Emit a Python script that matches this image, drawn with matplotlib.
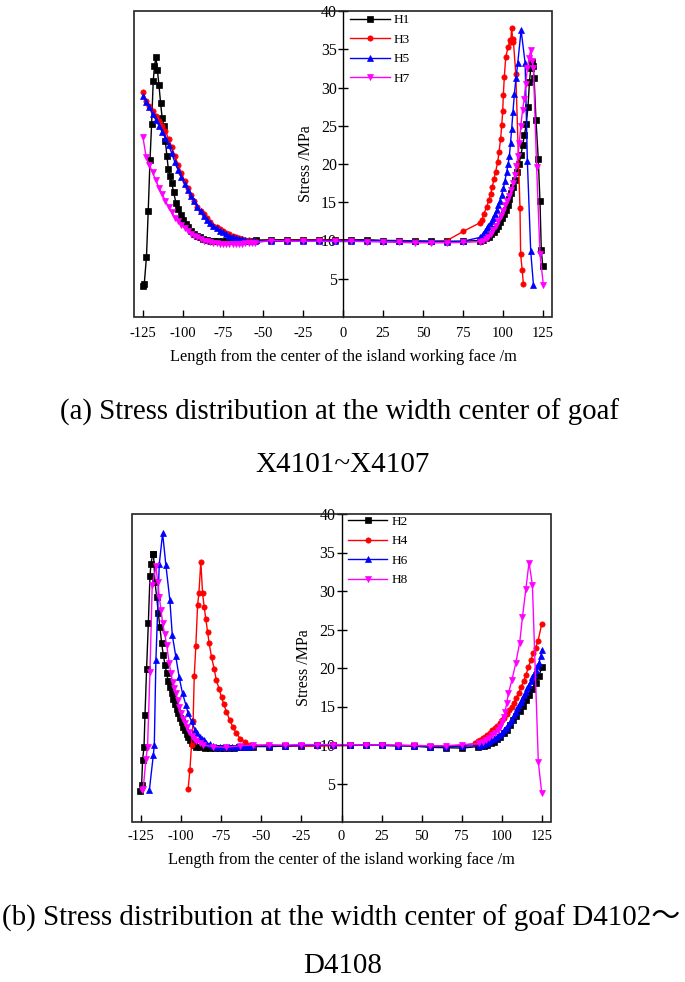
import matplotlib
matplotlib.use("Agg")
import matplotlib.pyplot as plt
from matplotlib.patches import Rectangle

plt.rcParams['font.family'] = ['Liberation Serif', 'Noto Sans CJK SC', 'DejaVu Sans']
plt.rcParams['axes.unicode_minus'] = False

# ---------------- Panel (a) data ----------------
h1_x = [-124.8, -124.2, -122.8, -121.7, -120.6, -119.6, -118.6, -117.8, -116.9, -116.0, -115.0, -114.0,
        -113.0, -112.0, -111.0, -110.0, -109.2, -108.0, -107.0, -105.8, -104.4, -103.0, -101.5, -100.0,
        -98.4, -96.8, -95.0, -93.2, -91.3, -89.3, -87.2, -85.0, -82.7, -80.3, -77.8, -75.2, -72.5, -69.7,
        -66.8, -63.8, -60.7, -57.5, -54.2, -45, -35, -25, -15, -5, 5, 15, 25, 35, 45, 55, 65, 75,
        85.6, 87.5, 89.3, 91.0, 92.6, 94.1, 95.5, 96.8, 98.0, 99.2, 100.4, 101.6, 102.8, 104.0, 105.2,
        106.4, 107.6, 108.8, 110.0, 111.2, 112.3, 113.4, 114.5, 115.6, 116.5, 117.3, 118.0, 118.7, 119.4,
        120.6, 122.0, 123.1, 123.9, 124.8]
h1_y = [4.0, 4.3, 7.9, 13.9, 20.5, 25.2, 30.8, 32.8, 34.0, 32.3, 30.3, 28.0,
        26.0, 25.0, 23.0, 21.0, 19.4, 18.4, 17.5, 16.3, 14.9, 14.1, 13.3, 12.7,
        12.2, 11.7, 11.2, 10.9, 10.6, 10.4, 10.25, 10.1, 10.0, 9.95, 9.9, 9.9, 9.9, 9.95,
        9.95, 10.0, 10.0, 10.0, 10.05, 10.1, 10.1, 10.1, 10.1, 10.1, 10.1, 10.1, 10.0, 10.0, 9.95, 9.9, 9.9, 9.9,
        10.0, 10.1, 10.3, 10.5, 10.8, 11.1, 11.5, 11.9, 12.4, 12.9, 13.4, 14.0, 14.7, 15.4, 16.2,
        17.0, 17.9, 18.9, 20.0, 21.2, 22.5, 23.8, 25.2, 27.5, 30.7, 32.5, 33.3, 32.8, 31.3,
        25.7, 20.7, 15.1, 8.8, 6.7]

h3_x = [-125, -123, -121, -119, -117, -115, -113, -111, -109, -107, -105, -103, -101, -99, -97, -95,
        -93, -91, -89, -87, -85, -83, -81, -79, -77, -75, -73, -71, -69, -67, -65, -63, -61, -59, -57, -55,
        -45, -35, -25, -15, -5, 5, 15, 25, 35, 45, 55, 65, 75.2,
        85.4, 86.7, 88.1, 89.8, 91.2, 92.3, 93.3, 94.4, 95.4, 96.7, 97.5, 98.5, 99.2, 99.8, 100.2, 100.8,
        101.7, 103.2, 104.4, 104.8, 105.4, 106.0, 106.5, 108.0, 110.6, 111.0, 112.0, 112.7]
h3_y = [29.4, 28.3, 27.6, 26.9, 26.3, 25.6, 25.0, 24.3, 23.3, 22.2, 21.0, 19.9, 18.8, 17.8, 16.8, 15.9,
        15.1, 14.4, 13.9, 13.4, 12.9, 12.4, 11.9, 11.7, 11.45, 11.2, 11.0, 10.8, 10.6, 10.45, 10.3, 10.2,
        10.1, 10.05, 10.0, 10.0,
        10.0, 10.0, 10.05, 10.05, 10.05, 10.0, 10.0, 9.95, 9.9, 9.9, 9.85, 10.0, 11.2,
        12.3, 12.7, 13.5, 14.4, 15.3, 16.1, 17.0, 18.1, 19.0, 20.3, 21.6, 23.3, 25.1, 26.9, 29.0, 31.4,
        34.0, 35.3, 36.2, 36.0, 37.8, 36.3, 36.0, 31.7, 14.2, 8.2, 6.1, 4.35]

h5_x = [-125, -123, -121, -119, -117, -115, -113, -111, -109, -107, -105, -103, -101, -99, -97, -95,
        -93, -91, -89, -87, -85, -83, -81, -79, -77, -75, -73, -71, -69, -67, -65, -63, -61, -59, -57, -55,
        -45, -35, -25, -15, -5, 5, 15, 25, 35, 45, 55, 65, 75,
        85.6, 86.6, 87.7, 88.8, 89.8, 90.8, 91.9, 93.0, 94.0, 95.0, 96.0, 97.0, 98.0, 99.1, 100.2, 101.2,
        102.3, 103.2, 104.0, 104.7, 105.4, 106.2, 107.1, 108.1, 109.2, 111.3, 113.8, 115.2, 117.3, 119.0]
h5_y = [28.9, 28.1, 27.4, 26.6, 25.8, 25.0, 24.2, 23.4, 22.5, 21.4, 20.2, 19.2, 18.3, 17.4, 16.6, 15.8,
        15.1, 14.4, 13.8, 13.2, 12.7, 12.3, 11.9, 11.6, 11.3, 11.05, 10.85, 10.65, 10.5, 10.35, 10.25, 10.15,
        10.05, 10.0, 10.0, 10.0,
        9.9, 9.9, 10.0, 10.0, 10.0, 10.0, 10.0, 10.0, 9.95, 9.9, 9.9, 9.85, 9.9,
        10.4, 10.6, 10.9, 11.2, 11.6, 11.9, 12.2, 12.6, 13.0, 13.5, 14.0, 14.6, 15.2, 15.9, 16.8, 17.8,
        19.0, 20.0, 21.1, 22.8, 24.6, 26.8, 29.2, 31.2, 33.2, 37.5, 33.2, 20.4, 8.6, 4.2]

h7_x = [-125, -123, -121, -119, -117, -115, -113, -111, -109, -107, -105, -103, -101, -99, -97, -95,
        -93, -91, -89, -87, -85, -83, -81, -79, -77, -75, -73, -71, -69, -67, -65, -63, -61, -59, -57, -55,
        -45, -35, -25, -15, -5, 5, 15, 25, 35, 45, 55, 65, 75,
        85.6, 87.5, 89.2, 90.8, 92.4, 94.0, 95.5, 97.0, 98.5, 100.0, 101.4, 102.7, 104.0, 105.2, 106.3,
        107.4, 108.4, 109.3, 110.2, 111.1, 112.2, 113.2, 114.2, 115.2, 116.2, 117.3, 118.2, 119.0,
        121.0, 123.1, 125.2]
h7_y = [23.5, 20.9, 19.9, 18.9, 17.9, 16.9, 16.1, 15.2, 14.4, 13.7, 13.0, 12.5, 12.0, 11.6, 11.2, 10.9,
        10.6, 10.4, 10.2, 10.0, 9.9, 9.8, 9.7, 9.65, 9.6, 9.6, 9.6, 9.6, 9.6, 9.6, 9.6, 9.6, 9.65, 9.65, 9.7, 9.7,
        10.0, 9.9, 9.9, 9.9, 9.9, 9.9, 9.85, 9.8, 9.75, 9.7, 9.7, 9.7, 9.75,
        9.85, 10.0, 10.25, 10.5, 10.9, 11.4, 11.9, 12.5, 13.2, 13.9, 14.6, 15.2, 15.8, 16.6, 17.5,
        18.6, 19.8, 21.0, 22.8, 25.0, 27.0, 28.5, 30.5, 32.5, 33.8, 34.9, 33.5, 32.5,
        19.6, 8.2, 4.2]

# ---------------- Panel (b) data ----------------
h2_x = [-125.6, -124.6, -124.0, -123.1, -122.5, -121.5, -120.4, -119.4, -118.8, -117.7, -117.2, -116.3,
        -115.2, -114.2, -113.2, -112.1, -111.1, -110.0, -109.0, -108.0, -107.0, -105.9, -104.9, -103.8,
        -102.8, -101.8, -100.7, -99.7, -98.6, -97.6, -96.6, -95.6, -94.5, -93.5, -92.0, -90.4, -88, -85,
        -82, -79, -76, -73, -70, -67, -64, -61, -58, -55, -45, -35, -25, -15, -5, 5, 15, 25, 35, 45, 55,
        65, 75, 85, 87, 89, 91, 93, 95, 97, 99, 101, 103, 105, 107, 109, 111, 113, 115, 117, 119, 121,
        123, 125]
h2_y = [4.0, 4.8, 8.0, 9.8, 13.9, 19.9, 25.9, 31.9, 33.5, 34.8, 34.8, 31.2,
        29.2, 27.1, 25.3, 23.2, 21.7, 20.4, 19.3, 18.3, 17.5, 16.7, 16.0, 15.3,
        14.7, 14.1, 13.5, 13.0, 12.4, 11.9, 11.4, 11.0, 10.6, 10.3, 10.0, 9.8, 9.7, 9.6,
        9.6, 9.55, 9.55, 9.6, 9.6, 9.65, 9.7, 9.7, 9.75, 9.8, 9.8, 9.85, 9.9, 9.95, 10.0, 10.0, 10.0, 9.95,
        9.9, 9.85, 9.7, 9.65, 9.6, 9.8, 9.85, 9.9, 10.0, 10.2, 10.45, 10.75, 11.1, 11.5, 12.0, 12.6, 13.2,
        13.8, 14.4, 15.1, 15.8, 16.5, 17.3, 18.1, 19.0, 20.1]

h4_x = [-95.6, -94.5, -93.5, -92.5, -91.8, -90.8, -89.7, -88.9, -87.7, -86.6, -85.6, -84.6, -83.5,
        -82.5, -81.0, -79.4, -78.0, -76.3, -74.8, -73.4, -71.7, -69.6, -67.6, -65.5, -63.0, -60.3,
        -57.2, -55, -45.8, -35, -25, -15, -5, 5, 15, 25, 35, 45, 55, 65, 75, 83.5, 85, 86.5, 88, 89.5,
        91, 92.5, 94, 95.5, 97, 98.5, 100, 101.5, 103, 104.5, 106, 107.5, 109, 110.5, 112, 113.5, 115,
        116.5, 118, 119.5, 121, 122.5, 124.8]
h4_y = [4.3, 6.8, 10.0, 13.1, 18.9, 22.9, 28.2, 29.7, 33.8, 29.7, 27.9, 26.4, 24.7,
        23.2, 21.4, 19.9, 18.4, 17.3, 16.2, 15.3, 14.3, 13.2, 12.3, 11.5, 10.8, 10.4,
        10.0, 9.9, 10.0, 9.9, 9.85, 9.85, 9.9, 9.95, 10.0, 10.0, 9.95, 9.9, 9.9, 9.9, 9.9, 10.2, 10.5,
        10.7, 10.9, 11.1, 11.3, 11.6, 11.9, 12.2, 12.5, 12.8, 13.2, 13.5, 14.0, 14.5, 15.0, 15.5, 16.1,
        16.8, 17.5, 18.3, 19.1, 20.1, 21.0, 21.9, 22.6, 23.5, 25.7]

h6_x = [-119.8, -117.3, -116.7, -115.7, -113.6, -111.5, -109.5, -107.0, -105.5, -103.3, -101.2, -99.1,
        -97.0, -95.6, -93.5, -91.4, -90, -88.3, -87, -86, -84.2, -82, -80, -78, -76, -74, -72, -70, -68,
        -66, -64, -62, -60, -58, -56, -45, -35, -25, -15, -5, 5, 15, 25, 35, 45, 55, 65, 75, 85.8, 87.4,
        88.9, 90.4, 92.0, 93.5, 95.1, 96.7, 98.3, 99.9, 101.4, 102.8, 104.1, 105.3, 106.5, 107.6, 108.6,
        109.7, 110.7, 111.8, 112.8, 113.9, 114.9, 115.9, 116.9, 118.0, 119.0, 120.0, 121.1, 122.1, 123.1,
        124.2, 125.2]
h6_y = [4.1, 8.7, 10.0, 21.0, 33.5, 37.5, 33.4, 28.8, 24.3, 21.5, 18.8, 16.7,
        15.2, 14.1, 13.1, 12.0, 11.6, 11.0, 10.8, 10.6, 10.3, 10.1, 9.9, 9.8, 9.8, 9.75, 9.7, 9.7, 9.7,
        9.7, 9.75, 9.75, 9.8, 9.8, 9.85, 9.9, 9.9, 9.95, 10.0, 10.0, 10.0, 10.0, 9.95, 9.9, 9.9, 9.8, 9.8,
        9.85, 9.9, 10.0, 10.1, 10.25, 10.4, 10.6, 10.8, 11.05, 11.3, 11.6, 11.9, 12.2, 12.6, 13.0, 13.4,
        13.85, 14.3, 14.75, 15.2, 15.6, 16.0, 16.45, 16.9, 17.35, 17.8, 18.3, 18.8, 19.25, 19.7, 20.2,
        20.7, 21.5, 22.4]

h8_x = [-124.6, -123.6, -121.9, -120.9, -119.4, -118.0, -115.7, -114.6, -113.6, -112.5, -111.5, -110.2,
        -109.0, -107.4, -106.3, -105.3, -104.2, -103.2, -102.2, -101.2, -100.0, -98.7, -97.6, -96.6,
        -95.0, -93.5, -92.0, -90.4, -88.0, -86.3, -80.1, -71.8, -63.5, -55.2, -45, -35, -25, -15, -5, 5,
        15, 25, 35, 45, 55, 65, 75, 85.8, 88.0, 90.0, 92.0, 94.1, 96.0, 97.3, 98.6, 99.9, 101.0, 102.0,
        103.0, 104.1, 106.2, 108.6, 111.1, 112.8, 114.9, 116.9, 119.0, 122.7, 124.8]
h8_y = [4.1, 4.3, 8.2, 9.8, 19.5, 30.8, 33.2, 31.2, 29.2, 27.5, 25.8, 24.4,
        23.0, 20.6, 19.3, 18.2, 17.4, 16.7, 15.8, 14.9, 14.1, 13.4, 12.8, 12.3,
        11.7, 11.2, 10.8, 10.5, 10.2, 10.0, 9.8, 9.7, 9.9, 10.0, 10.0, 10.0, 10.05, 10.05, 10.05, 10.05,
        10.0, 10.0, 10.0, 9.95, 9.9, 9.9, 10.05, 10.2, 10.4, 10.6, 10.9, 11.3, 11.6, 11.9, 12.4, 13.0,
        13.6, 14.3, 15.5, 16.7, 18.4, 20.6, 23.3, 26.6, 30.2, 33.7, 30.8, 7.8, 3.8]

labels_a = ['H1', 'H3', 'H5', 'H7']
labels_b = ['H2', 'H4', 'H6', 'H8']
colors = ['black', '#ff0000', '#0000ff', '#ff00ff']
markers = ['s', 'o', '^', 'v']
x_ticks = [-125, -100, -75, -50, -25, 0, 25, 50, 75, 100, 125]
y_ticks = [5, 10, 15, 20, 25, 30, 35, 40]

fig = plt.figure(figsize=(6.85, 9.82), dpi=100)
W, H = 685, 982


def make_axes(left_px, right_px, top_px, bottom_px):
    return fig.add_axes([left_px / W, 1 - bottom_px / H, (right_px - left_px) / W, (bottom_px - top_px) / H])


def style(ax, series, labels, legend_anchor, xlabelpad, xtickpad):
    for (xs, ys), lab, c, m in zip(series, labels, colors, markers):
        ax.plot(xs, ys, color=c, marker=m, markersize=3.8, linewidth=1.0, label=lab,
                markeredgewidth=0.5)
    ax.set_xlim(-130.6, 130.6)
    ax.set_ylim(0, 40)
    ax.spines['left'].set_position(('data', 0))
    ax.spines['top'].set_visible(False)
    ax.spines['right'].set_visible(False)
    ax.spines['bottom'].set_visible(False)
    ax.spines['left'].set_linewidth(1.0)
    ax.add_patch(Rectangle((0, 0), 1, 1, transform=ax.transAxes, fill=False,
                           edgecolor='#222222', linewidth=1.2, clip_on=False, zorder=5))
    ax.set_xticks(x_ticks)
    ax.set_yticks(y_ticks)
    ax.tick_params(axis='x', direction='in', length=5, width=1, labelsize=10.5, pad=xtickpad)
    ax.tick_params(axis='y', direction='inout', length=7, width=1, labelsize=11.5, pad=1)
    ax.set_xlabel('Length from the center of the island working face /m', fontsize=11.8,
                  labelpad=xlabelpad)
    ax.set_ylabel('Stress /MPa', fontsize=11.5)
    ax.yaxis.set_label_coords(0.43, 0.5)
    ax.legend(loc='upper left', bbox_to_anchor=legend_anchor, frameon=False, fontsize=9.5,
              handlelength=3.0, handletextpad=0.3, labelspacing=0.55, borderpad=0,
              borderaxespad=0)


ax1 = make_axes(134, 552, 11, 317)
style(ax1, [(h1_x, h1_y), (h3_x, h3_y), (h5_x, h5_y), (h7_x, h7_y)], labels_a, (0.517, 0.99), 7, 7)

ax2 = make_axes(132, 551, 514, 822)
style(ax2, [(h2_x, h2_y), (h4_x, h4_y), (h6_x, h6_y), (h8_x, h8_y)], labels_b, (0.515, 0.995), 6, 6)

fig.text(340 / W, 1 - 412 / H, '(a) Stress distribution at the width center of goaf',
         ha='center', va='center', fontsize=20.8)
fig.text(343 / W, 1 - 465 / H, 'X4101~X4107', ha='center', va='center', fontsize=21)
fig.text(2 / W, 1 - 918 / H, '(b) Stress distribution at the width center of goaf D4102\uff5e',
         ha='left', va='center', fontsize=20.9,
         family=['Liberation Serif', 'Noto Sans CJK SC'])
fig.text(343 / W, 1 - 966 / H, 'D4108', ha='center', va='center', fontsize=20.9)

fig.savefig('out.png', dpi=100)
